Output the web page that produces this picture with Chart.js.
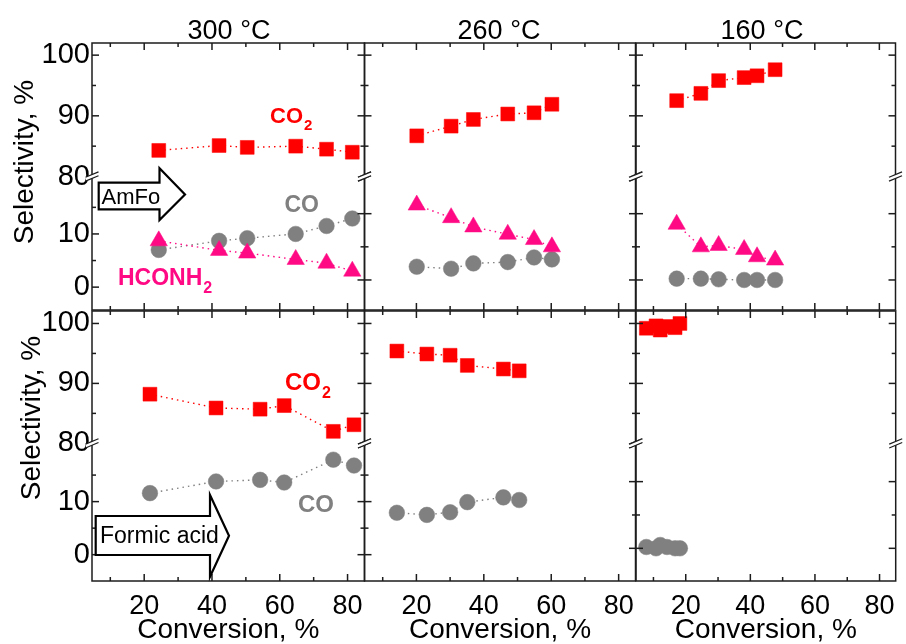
<!DOCTYPE html>
<html>
<head>
<meta charset="utf-8">
<script src="https://cdn.jsdelivr.net/npm/chart.js@4.4.1/dist/chart.umd.min.js"></script>
<style>
  html, body { margin: 0; padding: 0; background: #ffffff; }
  #wrap { position: relative; width: 906px; height: 644px; overflow: hidden; }
  #wrap canvas { position: absolute; left: 0; top: 0; }
</style>
</head>
<body>
<div id="wrap">
  <canvas id="p0" width="906" height="644"></canvas>
  <canvas id="p1" width="906" height="644"></canvas>
  <canvas id="p2" width="906" height="644"></canvas>
  <canvas id="p3" width="906" height="644"></canvas>
  <canvas id="p4" width="906" height="644"></canvas>
  <canvas id="p5" width="906" height="644"></canvas>
</div>
<script>
// ---- Data: conversion (%) and product selectivity (%) ----
const temperatures = ['300 °C', '260 °C', '160 °C'];

// Ammonium formate (AmFo)
const amfo300Conv   = [24.3, 42.1, 50.4, 64.7, 73.8, 81.4];
const amfo300CO2    = [84.3, 85.1, 84.8, 85.0, 84.5, 84.0];
const amfo300CO     = [7.0, 8.7, 9.2, 10.0, 11.5, 12.9];
const amfo300HCONH2 = [8.7, 6.9, 6.4, 5.2, 4.5, 3.0];

const amfo260Conv   = [20.1, 30.3, 36.9, 47.1, 54.9, 60.2];
const amfo260CO2    = [86.7, 88.3, 89.4, 90.3, 90.5, 91.9];
const amfo260CO     = [2.0, 1.7, 2.5, 2.7, 3.4, 3.1];
const amfo260HCONH2 = [11.3, 9.4, 8.0, 6.9, 6.1, 5.0];

const amfo160Conv   = [17.2, 24.7, 30.2, 38.1, 42.1, 47.7];
const amfo160CO2    = [92.5, 93.7, 95.8, 96.3, 96.6, 97.6];
const amfo160CO     = [0.2, 0.2, 0.1, 0.0, 0.0, 0.0];
const amfo160HCONH2 = [8.4, 5.0, 5.2, 4.6, 3.5, 3.0];

// Formic acid
const fa300Conv = [21.7, 41.2, 54.2, 61.3, 75.8, 81.9];
const fa300CO2  = [88.2, 85.9, 85.7, 86.3, 82.0, 83.1];
const fa300CO   = [11.6, 13.8, 14.1, 13.6, 17.9, 16.8];

const fa260Conv = [14.2, 23.1, 30.0, 35.1, 45.8, 50.5];
const fa260CO2  = [95.4, 94.9, 94.7, 93.0, 92.4, 92.1];
const fa260CO   = [7.9, 7.5, 8.0, 9.9, 10.8, 10.3];

const fa160Conv = [7.8, 10.8, 12.1, 14.2, 16.7, 18.2];
const fa160CO2  = [99.2, 99.6, 98.9, 99.5, 99.3, 100.0];
const fa160CO   = [0.2, 0.0, 0.5, 0.2, 0.0, 0.0];

// Tick values
const xLabelTicks   = [20, 40, 60, 80];
const xMinorTicks   = [10, 30, 50, 70];
const upperLabels   = [80, 90, 100];
const upperMajor    = [90, 100];
const upperMinor    = [85, 95];
const lowerLabels   = [0, 10];
const lowerMajor    = [0, 10];

// ---- Styling ----
const FONT = '"Liberation Sans", Arial, Helvetica, sans-serif';
const RED = '#ff0000';
const GRAY = '#808080';
const PINK = '#ff0a84';
const AXIS = '#1c1c1c';
const X_MIN = 4.6, X_MAX = 85;

function points(xs, ys) { return xs.map((x, i) => ({ x, y: ys[i] })); }

function series(label, xs, ys, axis, style, color, radius, order) {
  return {
    label, data: points(xs, ys), yAxisID: axis, order,
    showLine: true, tension: 0, clip: false,
    borderColor: color, borderWidth: 1.4, borderDash: [1.5, 4],
    pointStyle: style, pointRadius: radius, pointHoverRadius: radius,
    pointBackgroundColor: color, pointBorderColor: color, pointBorderWidth: 0.5
  };
}

function line(ctx, x0, y0, x1, y1) {
  ctx.beginPath(); ctx.moveTo(x0, y0); ctx.lineTo(x1, y1); ctx.stroke();
}

function axisBreak(ctx, bx, by) {
  ctx.save();
  ctx.fillStyle = '#ffffff';
  ctx.beginPath();
  ctx.moveTo(bx - 6, by + 0.5); ctx.lineTo(bx + 6, by - 4.5);
  ctx.lineTo(bx + 6, by - 0.5); ctx.lineTo(bx - 6, by + 4.5);
  ctx.closePath(); ctx.fill();
  ctx.strokeStyle = AXIS; ctx.lineWidth = 1.2;
  line(ctx, bx - 6.5, by + 0.8, bx + 6.5, by - 4.6);
  line(ctx, bx - 6.5, by + 4.6, bx + 6.5, by - 0.8);
  ctx.restore();
}

// Frame, inward tick marks and broken-axis marks of one panel
const framePlugin = {
  id: 'panelFrame',
  afterDraw(chart, args, o) {
    const { ctx, chartArea: a, scales } = chart;
    const x = scales.x, hi = scales.yHi, lo = scales.yLo;
    ctx.save();
    ctx.strokeStyle = AXIS;
    ctx.lineWidth = 1.5;
    ctx.strokeRect(a.left, a.top, a.right - a.left, a.bottom - a.top);
    const xt = [[xLabelTicks, 7], [xMinorTicks, 4]];
    for (const [vals, len] of xt) {
      for (const v of vals) {
        const px = x.getPixelForValue(v);
        line(ctx, px, a.bottom, px, a.bottom - len);
        line(ctx, px, a.top, px, a.top + len);
      }
    }
    const yt = [[hi, upperMajor, 7], [hi, upperMinor, 4], [lo, lowerMajor, 7], [lo, o.lowerMinor, 4]];
    for (const [s, vals, len] of yt) {
      for (const v of vals) {
        const py = s.getPixelForValue(v);
        line(ctx, a.left - (o.outerLeft ? len : 0), py, a.left + len, py);
        if (o.rightTicks) line(ctx, a.right - len, py, a.right, py);
      }
    }
    axisBreak(ctx, a.left, hi.bottom);
    axisBreak(ctx, a.right, hi.bottom);
    ctx.restore();
  }
};

function drawLabel(ctx, item) {
  ctx.save();
  ctx.fillStyle = item.color;
  ctx.textAlign = 'left';
  ctx.textBaseline = 'alphabetic';
  ctx.font = `bold ${item.size}px ${FONT}`;
  ctx.fillText(item.text, item.x, item.y);
  if (item.sub) {
    const w = ctx.measureText(item.text).width;
    ctx.font = `bold ${Math.round(item.size * 0.68)}px ${FONT}`;
    ctx.fillText(item.sub, item.x + w + 1, item.y + item.size * 0.33);
  }
  ctx.restore();
}

function drawArrow(ctx, ar) {
  ctx.save();
  ctx.beginPath();
  ctx.moveTo(ar.x0, ar.top); ctx.lineTo(ar.xHead, ar.top);
  ctx.lineTo(ar.xHead, ar.headTop); ctx.lineTo(ar.xTip, ar.yTip);
  ctx.lineTo(ar.xHead, ar.headBot); ctx.lineTo(ar.xHead, ar.bot);
  ctx.lineTo(ar.x0, ar.bot); ctx.closePath();
  ctx.fillStyle = '#ffffff'; ctx.fill();
  ctx.lineWidth = 2.2; ctx.lineJoin = 'miter'; ctx.strokeStyle = '#000000'; ctx.stroke();
  ctx.fillStyle = '#000000';
  ctx.font = `${ar.size}px ${FONT}`;
  ctx.textBaseline = 'alphabetic';
  ctx.fillText(ar.text, ar.tx, ar.ty);
  ctx.restore();
}

// Panel titles, y-axis title, series labels and feed arrows
const notesPlugin = {
  id: 'panelNotes',
  afterDraw(chart, args, o) {
    const ctx = chart.ctx;
    if (o.title) {
      ctx.save();
      ctx.fillStyle = '#000'; ctx.font = `27px ${FONT}`;
      ctx.textAlign = 'center'; ctx.textBaseline = 'alphabetic';
      ctx.fillText(o.title, o.titleX, 39);
      ctx.restore();
    }
    if (o.yTitle) {
      ctx.save();
      ctx.translate(o.yTitle.x, o.yTitle.y);
      ctx.rotate(-Math.PI / 2);
      ctx.fillStyle = '#000'; ctx.font = `28px ${FONT}`;
      ctx.textAlign = 'center'; ctx.textBaseline = 'middle';
      ctx.fillText('Selectivity, %', 0, 0);
      ctx.restore();
    }
    (o.arrows || []).forEach(ar => drawArrow(ctx, ar));
    (o.labels || []).forEach(it => drawLabel(ctx, it));
  }
};

function buildPanel(canvasId, p) {
  const [L, T, R, B] = p.rect;
  const yw = p.first ? L : 0;
  const xh = p.bottomRow ? 644 - B : 0;
  const datasets = [
    series('CO2', p.conv, p.co2, 'yHi', 'rect', RED, 9.8, 3),
    series('CO', p.conv, p.co, 'yLo', 'circle', GRAY, 7.8, 2)
  ];
  if (p.hconh2) datasets.push(series('HCONH2', p.conv, p.hconh2, 'yLo', 'triangle', PINK, 10, 1));

  const tickFont = { family: FONT, size: 29 };
  new Chart(document.getElementById(canvasId), {
    type: 'scatter',
    data: { datasets },
    options: {
      responsive: false, animation: false, events: [],
      layout: { padding: { left: L - yw, top: T, right: 906 - R, bottom: 644 - B - xh } },
      plugins: {
        legend: { display: false }, tooltip: { enabled: false }, title: { display: false },
        panelFrame: { lowerMinor: p.lowerMinor, outerLeft: !p.first, rightTicks: p.last },
        panelNotes: p.notes || {}
      },
      scales: {
        x: {
          type: 'linear', position: 'bottom', min: X_MIN, max: X_MAX,
          grid: { display: false, drawTicks: false }, border: { display: false },
          afterBuildTicks: s => { s.ticks = xLabelTicks.map(v => ({ value: v })); },
          ticks: { display: p.bottomRow, font: { family: FONT, size: 27 }, color: '#000', padding: 9, maxRotation: 0, autoSkip: false },
          title: { display: p.bottomRow, text: 'Conversion, %', color: '#000', font: { family: FONT, size: 28, lineHeight: 1 }, padding: 0 },
          afterFit: s => { s.height = xh; }
        },
        yLo: {
          type: 'linear', position: 'left', stack: 'sel', stackWeight: p.weights[1],
          min: p.lower[0], max: p.lower[1],
          grid: { display: false, drawTicks: false }, border: { display: false },
          afterBuildTicks: s => { s.ticks = lowerLabels.map(v => ({ value: v })); },
          ticks: { display: p.first, font: tickFont, color: '#000', padding: 2, autoSkip: false },
          afterFit: s => { s.width = yw; }
        },
        yHi: {
          type: 'linear', position: 'left', stack: 'sel', stackWeight: p.weights[0],
          min: 80, max: p.upperMax,
          grid: { display: false, drawTicks: false }, border: { display: false },
          afterBuildTicks: s => { s.ticks = upperLabels.map(v => ({ value: v })); },
          ticks: { display: p.first, font: tickFont, color: '#000', padding: 2, autoSkip: false },
          afterFit: s => { s.width = yw; }
        }
      }
    },
    plugins: [framePlugin, notesPlugin]
  });
}

const TOP = [43, 310], BOT = [311, 581];
const COLS = [[92, 364.5], [364.5, 635.5], [636, 905]];

buildPanel('p0', {
  rect: [COLS[0][0], TOP[0], COLS[0][1], TOP[1]], first: true, last: false, bottomRow: false,
  conv: amfo300Conv, co2: amfo300CO2, co: amfo300CO, hconh2: amfo300HCONH2,
  upperMax: 102, lower: [-4.3, 20.8], lowerMinor: [5, 15], weights: [1, 1],
  notes: {
    title: temperatures[0], titleX: 229,
    yTitle: { x: 25, y: 162 },
    arrows: [{ x0: 98.7, top: 182.7, bot: 209.3, xHead: 159.5, headTop: 168.3, headBot: 220, xTip: 185, yTip: 194.5,
               text: 'AmFo', size: 22, tx: 101.5, ty: 204 }],
    labels: [
      { text: 'CO', sub: '2', x: 270, y: 123, color: RED, size: 22 },
      { text: 'CO', x: 284.5, y: 212, color: GRAY, size: 23 },
      { text: 'HCONH', sub: '2', x: 118, y: 285, color: PINK, size: 23 }
    ]
  }
});
buildPanel('p1', {
  rect: [COLS[1][0], TOP[0], COLS[1][1], TOP[1]], first: false, last: false, bottomRow: false,
  conv: amfo260Conv, co2: amfo260CO2, co: amfo260CO, hconh2: amfo260HCONH2,
  upperMax: 102, lower: [-4.53, 15.61], lowerMinor: [5], weights: [1, 1],
  notes: { title: temperatures[1], titleX: 499 }
});
buildPanel('p2', {
  rect: [COLS[2][0], TOP[0], COLS[2][1], TOP[1]], first: false, last: true, bottomRow: false,
  conv: amfo160Conv, co2: amfo160CO2, co: amfo160CO, hconh2: amfo160HCONH2,
  upperMax: 102, lower: [-4.53, 15.61], lowerMinor: [5], weights: [1, 1],
  notes: { title: temperatures[2], titleX: 762 }
});
buildPanel('p3', {
  rect: [COLS[0][0], BOT[0], COLS[0][1], BOT[1]], first: true, last: false, bottomRow: true,
  conv: fa300Conv, co2: fa300CO2, co: fa300CO,
  upperMax: 102.08, lower: [-4.96, 20.98], lowerMinor: [5, 15], weights: [1, 1.04],
  notes: {
    yTitle: { x: 32, y: 418 },
    arrows: [{ x0: 95.7, top: 516, bot: 555, xHead: 210, headTop: 495, headBot: 576.7, xTip: 229, yTip: 535.7,
               text: 'Formic acid', size: 23, tx: 100, ty: 543 }],
    labels: [
      { text: 'CO', sub: '2', x: 285, y: 390, color: RED, size: 24 },
      { text: 'CO', x: 298, y: 512, color: GRAY, size: 24 }
    ]
  }
});
buildPanel('p4', {
  rect: [COLS[1][0], BOT[0], COLS[1][1], BOT[1]], first: false, last: false, bottomRow: true,
  conv: fa260Conv, co2: fa260CO2, co: fa260CO,
  upperMax: 102.08, lower: [-4.96, 20.98], lowerMinor: [5, 15], weights: [1, 1.04]
});
buildPanel('p5', {
  rect: [COLS[2][0], BOT[0], COLS[2][1], BOT[1]], first: false, last: true, bottomRow: true,
  conv: fa160Conv, co2: fa160CO2, co: fa160CO,
  upperMax: 102.08, lower: [-4.9, 15.74], lowerMinor: [5], weights: [1, 1.04]
});
</script>
</body>
</html>
